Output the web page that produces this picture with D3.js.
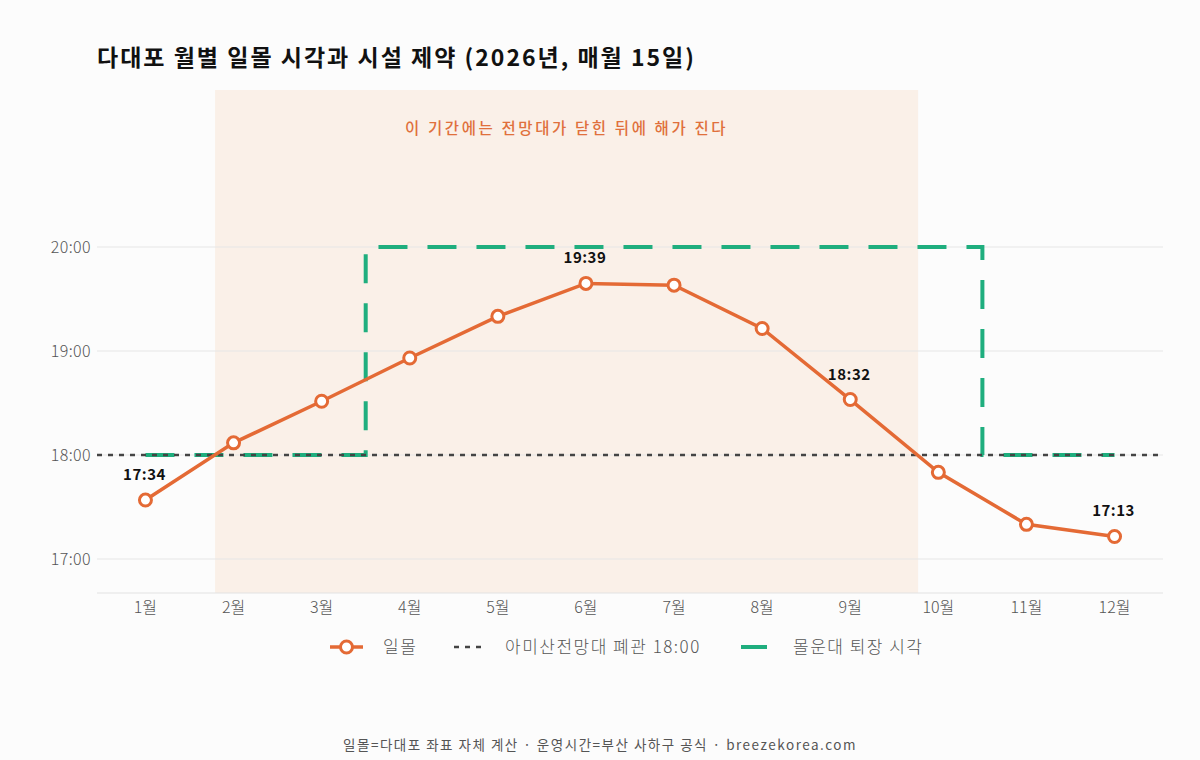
<!DOCTYPE html>
<html>
<head>
<meta charset="utf-8">
<script src="https://cdn.jsdelivr.net/npm/d3@7"></script>
<style>
  body { margin: 0; background: #fcfcfc; }
  svg { font-family: "Noto Sans CJK KR", "Noto Sans", sans-serif; }
</style>
</head>
<body>
<div id="chart"></div>
<script>
// Data
const months = ["1월", "2월", "3월", "4월", "5월", "6월", "7월", "8월", "9월", "10월", "11월", "12월"]
const sunset = ["17:34", "18:07", "18:31", "18:56", "19:20", "19:39", "19:38", "19:13", "18:32", "17:50", "17:20", "17:13"]
const closing = ["18:00", "18:00", "18:00", "20:00", "20:00", "20:00", "20:00", "20:00", "20:00", "20:00", "18:00", "18:00"]
const observatoryClose = "18:00"
const labelled = [0, 5, 8, 11]
const yTicks = ["17:00", "18:00", "19:00", "20:00"]
const bandRange = [0.79, 8.77] // month position where sun sets after observatory closes

const toHours = s => { const p = s.split(":"); return +p[0] + p[1] / 60 }

const W = 1200, H = 760
const margin = { left: 97, right: 37, top: 90, bottom: 167 }

const svg = d3.select("#chart").append("svg")
    .attr("width", W).attr("height", H)

svg.append("rect").attr("width", W).attr("height", H).attr("fill", "#fcfcfc")

// Scales
const x = d3.scaleLinear()
    .domain([-0.55, 11.55])
    .range([margin.left, W - margin.right])
const y = d3.scaleLinear()
    .domain([16.673, 21.51])
    .range([H - margin.bottom, margin.top])

// Highlight band
svg.append("rect")
    .attr("x", x(bandRange[0]))
    .attr("width", x(bandRange[1]) - x(bandRange[0]))
    .attr("y", margin.top)
    .attr("height", H - margin.bottom - margin.top)
    .attr("fill", "#f9ece2")
    .attr("opacity", 0.75)

svg.append("text")
    .attr("x", (x(bandRange[0]) + x(bandRange[1])) / 2)
    .attr("y", 134)
    .attr("text-anchor", "middle")
    .attr("font-size", 15.5)
    .attr("font-weight", 500)
    .attr("letter-spacing", 2.6)
    .attr("fill", "#e0703c")
    .text("이 기간에는 전망대가 닫힌 뒤에 해가 진다")

// Grid
svg.append("g").selectAll("line")
    .data(yTicks)
    .join("line")
    .attr("x1", x(-0.55)).attr("x2", x(11.55))
    .attr("y1", d => y(toHours(d))).attr("y2", d => y(toHours(d)))
    .attr("stroke", "#e6e6e6").attr("stroke-width", 1)

// y labels
svg.append("g").selectAll("text")
    .data(yTicks)
    .join("text")
    .attr("x", 91)
    .attr("y", d => y(toHours(d)) + 6)
    .attr("text-anchor", "end")
    .attr("font-size", 16)
    .attr("font-weight", 300)
    .attr("letter-spacing", 0.4)
    .attr("fill", "#555")
    .text(d => d)

// x axis
svg.append("line")
    .attr("x1", x(-0.55)).attr("x2", x(11.55))
    .attr("y1", H - margin.bottom).attr("y2", H - margin.bottom)
    .attr("stroke", "#e2e2e2")

svg.append("g").selectAll("text")
    .data(months)
    .join("text")
    .attr("x", (d, i) => x(i))
    .attr("y", 613)
    .attr("text-anchor", "middle")
    .attr("font-size", 16)
    .attr("font-weight", 300)
    .attr("fill", "#555")
    .text(d => d)

// Closing time of Morundae (step)
const stepLine = d3.line()
    .x((d, i) => x(i))
    .y(d => y(toHours(d)))
    .curve(d3.curveStep)

svg.append("path")
    .datum(closing)
    .attr("d", stepLine)
    .attr("fill", "none")
    .attr("stroke", "#1fae7e")
    .attr("stroke-width", 4)
    .attr("stroke-dasharray", "29,20")

// Observatory closing line
svg.append("line")
    .attr("x1", x(-0.55)).attr("x2", x(11.55))
    .attr("y1", y(toHours(observatoryClose))).attr("y2", y(toHours(observatoryClose)))
    .attr("stroke", "#444")
    .attr("stroke-width", 2.5)
    .attr("stroke-dasharray", "5,6")

// Sunset line
const sunLine = d3.line()
    .x((d, i) => x(i))
    .y(d => y(toHours(d)))

svg.append("path")
    .datum(sunset)
    .attr("d", sunLine)
    .attr("fill", "none")
    .attr("stroke", "#e46a35")
    .attr("stroke-width", 3.5)

svg.append("g").selectAll("circle")
    .data(sunset)
    .join("circle")
    .attr("cx", (d, i) => x(i))
    .attr("cy", d => y(toHours(d)))
    .attr("r", 6)
    .attr("fill", "white")
    .attr("stroke", "#e46a35")
    .attr("stroke-width", 3)

svg.append("g").selectAll("text")
    .data(labelled)
    .join("text")
    .attr("x", i => x(i) - 1)
    .attr("y", i => y(toHours(sunset[i])) - 20)
    .attr("text-anchor", "middle")
    .attr("font-size", 15)
    .attr("font-weight", 700)
    .attr("letter-spacing", 0.5)
    .attr("fill", "#111")
    .text(i => sunset[i])

// Title
svg.append("text")
    .attr("x", 97).attr("y", 66)
    .attr("font-size", 23)
    .attr("font-weight", 700)
    .attr("letter-spacing", 2)
    .attr("fill", "#111")
    .text("다대포 월별 일몰 시각과 시설 제약 (2026년, 매월 15일)")

// Legend
const lg = svg.append("g").attr("transform", "translate(0,647)")
lg.append("line").attr("x1", 330).attr("x2", 363).attr("y1", 0).attr("y2", 0)
    .attr("stroke", "#e46a35").attr("stroke-width", 3.5)
lg.append("circle").attr("cx", 346.5).attr("cy", 0).attr("r", 6)
    .attr("fill", "white").attr("stroke", "#e46a35").attr("stroke-width", 3)
lg.append("text").attr("x", 383).attr("y", 6).text("일몰")

lg.append("line").attr("x1", 454).attr("x2", 484).attr("y1", 0).attr("y2", 0)
    .attr("stroke", "#444").attr("stroke-width", 2.5).attr("stroke-dasharray", "5,6")
lg.append("text").attr("x", 505).attr("y", 6).text("아미산전망대 폐관 18:00")

lg.append("line").attr("x1", 741).attr("x2", 767).attr("y1", 0).attr("y2", 0)
    .attr("stroke", "#1fae7e").attr("stroke-width", 4)
lg.append("text").attr("x", 793).attr("y", 6).text("몰운대 퇴장 시각")

lg.selectAll("text")
    .attr("font-size", 17)
    .attr("font-weight", 300)
    .attr("letter-spacing", 1.5)
    .attr("fill", "#555")

// Footer
svg.append("text")
    .attr("x", 600).attr("y", 750)
    .attr("text-anchor", "middle")
    .attr("font-size", 13.5)
    .attr("letter-spacing", 1.5)
    .attr("fill", "#555")
    .text("일몰=다대포 좌표 자체 계산 · 운영시간=부산 사하구 공식 · breezekorea.com")
</script>
</body>
</html>
